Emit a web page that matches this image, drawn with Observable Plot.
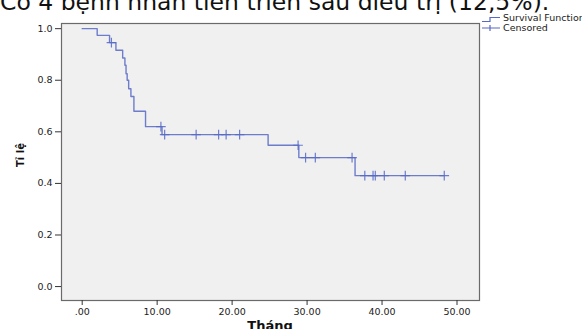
<!DOCTYPE html>
<html>
<head>
<meta charset="utf-8">
<script src="https://cdn.jsdelivr.net/npm/d3@7"></script>
<script src="https://cdn.jsdelivr.net/npm/@observablehq/plot@0.6"></script>
<style>
  html, body { margin: 0; padding: 0; background: #fff; }
  #wrap { position: relative; width: 582px; height: 329px; overflow: hidden; }
  #chart { position: absolute; left: 0; top: 0; }
  #overlay { position: absolute; left: 0; top: 0; }
</style>
</head>
<body>
<div id="wrap">
  <div id="chart"></div>
  <svg id="overlay" width="582" height="329"></svg>
</div>
<script>
const titleText = "Có 4 bệnh nhân tiến triển sau điều trị (12,5%).";
const xLabel = "Tháng";
const yLabel = "Tỉ lệ";
const legendLabels = ["Survival Function", "Censored"];

// Kaplan-Meier step points (time in months, cumulative survival)
const stepTimes = [0, 2.0, 3.65, 4.5, 5.4, 5.7, 5.85, 6.0, 6.2, 6.5, 6.9, 8.45, 10.65, 24.8, 28.9, 36.4, 48.3];
const stepSurv  = [1.0, 0.974, 0.946, 0.916, 0.886, 0.858, 0.825, 0.80, 0.767, 0.737, 0.68, 0.62, 0.589, 0.548, 0.50, 0.43, 0.43];

// Censored observations
const censorTimes = [3.9, 10.5, 11.0, 15.2, 18.2, 19.2, 21.0, 28.8, 29.8, 31.1, 36.0, 37.7, 38.8, 39.1, 40.3, 43.1, 48.3];
const censorSurv  = [0.946, 0.62, 0.589, 0.589, 0.589, 0.589, 0.589, 0.548, 0.50, 0.50, 0.50, 0.43, 0.43, 0.43, 0.43, 0.43, 0.43];

const xTicks = [0, 10, 20, 30, 40, 50];
const yTicks = [0, 0.2, 0.4, 0.6, 0.8, 1.0];

const curve = stepTimes.map((t, i) => ({t, s: stepSurv[i]}));
const censored = censorTimes.map((t, i) => ({t, s: censorSurv[i]}));

const lineColor = "#5669c6";
const font = "'DejaVu Sans', Verdana, sans-serif";

const plot = Plot.plot({
  width: 582,
  height: 329,
  marginLeft: 61,
  marginRight: 103,
  marginTop: 23,
  marginBottom: 29,
  style: {fontFamily: font, fontSize: "9.5px", color: "#222", background: "transparent"},
  x: {domain: [-2.76, 53.0], label: null},
  y: {domain: [-0.054, 1.02], label: null},
  marks: [
    Plot.frame({fill: "#f0f0f0", stroke: "#6a6a6a", strokeWidth: 1.2}),
    Plot.line(curve, {x: "t", y: "s", curve: "step-after", stroke: lineColor, strokeWidth: 1.4, strokeOpacity: 0.85}),
    Plot.dot(censored, {x: "t", y: "s", symbol: "plus", r: 3.2, stroke: lineColor, strokeWidth: 1.2, strokeOpacity: 0.85}),
    Plot.axisX({ticks: xTicks, tickFormat: d => d === 0 ? ".00" : d.toFixed(2), tickSize: 5, tickPadding: 3, stroke: "#333", label: null}),
    Plot.axisY({ticks: yTicks, tickFormat: d => d.toFixed(1), tickSize: 6, tickPadding: 3, stroke: "#333", label: null})
  ]
});
document.getElementById("chart").appendChild(plot);

// Overlay: title, axis titles, legend
const ov = d3.select("#overlay");
ov.append("text").attr("x", 0).attr("y", 9.5).text(titleText)
  .attr("font-family", font).attr("font-size", 23.5).attr("fill", "#111");
ov.append("text").attr("x", 270).attr("y", 329.5).attr("text-anchor", "middle").text(xLabel)
  .attr("font-family", font).attr("font-size", 13).attr("font-weight", "bold").attr("fill", "#111");
ov.append("text").attr("transform", "translate(24,155) rotate(-90)").attr("text-anchor", "middle").text(yLabel)
  .attr("font-family", font).attr("font-size", 10).attr("font-weight", "bold").attr("fill", "#111");

ov.append("path")
  .attr("d", "M482,21.5 H490 V17.5 H500")
  .attr("fill", "none").attr("stroke", lineColor).attr("stroke-width", 1.2);
ov.append("text").attr("x", 503).attr("y", 21).text(legendLabels[0])
  .attr("font-family", font).attr("font-size", 9.5).attr("fill", "#222");
ov.append("path")
  .attr("d", "M482,28 H500 M490,25 V31")
  .attr("fill", "none").attr("stroke", lineColor).attr("stroke-width", 1.2);
ov.append("text").attr("x", 503).attr("y", 30.5).text(legendLabels[1])
  .attr("font-family", font).attr("font-size", 9.5).attr("fill", "#222");
</script>
</body>
</html>
